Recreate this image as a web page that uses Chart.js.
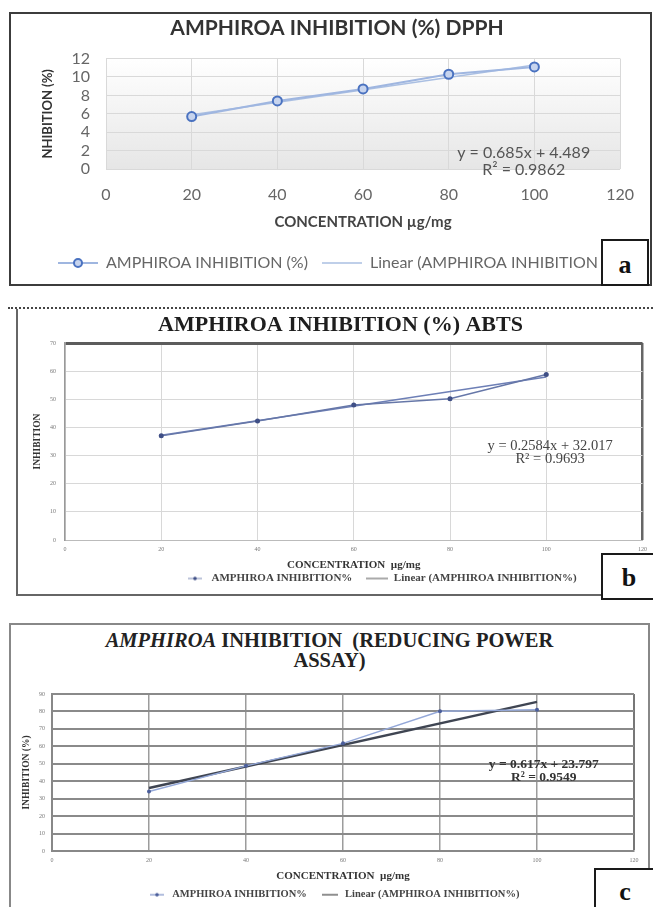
<!DOCTYPE html>
<html>
<head>
<meta charset="utf-8">
<title>Amphiroa inhibition</title>
<script src="https://cdn.jsdelivr.net/npm/chart.js@4.4.1/dist/chart.umd.min.js"></script>
<style>
  body { margin: 0; width: 653px; height: 907px; position: relative; overflow: hidden; background: #fff; }
  canvas { position: absolute; }
  .frame { position: absolute; box-sizing: border-box; }
  .tag { position: absolute; box-sizing: border-box; border: 2px solid #1a1a1a; background: #fff;
         font: bold 26px "Liberation Serif", serif; color: #111; text-align: center; }
  #titleC { position: absolute; left: 11px; width: 637px; top: 630px; text-align: center;
            font: bold 20.5px/20px "Liberation Serif", serif; color: #222; }
</style>
</head>
<body>

<div class="frame" style="left:9px;top:12px;width:643px;height:274px;border:2px solid #3c3c3c"></div>
<canvas id="chartA" width="639" height="270" style="left:11px;top:14px"></canvas>
<div class="tag" style="left:601px;top:239px;width:48px;height:47px;line-height:48px">a</div>

<div class="frame" style="left:8px;top:307px;width:645px;height:3px;border-top:2px dotted #444"></div>
<div class="frame" style="left:16px;top:309px;width:640px;height:287px;border-left:2px solid #666;border-bottom:2px solid #666"></div>
<canvas id="chartB" width="634" height="290" style="left:19px;top:311px"></canvas>
<div class="tag" style="left:601px;top:553px;width:56px;height:47px;line-height:46px">b</div>

<div class="frame" style="left:9px;top:623px;width:641px;height:300px;border:2px solid #888"></div>
<div id="titleC"><i>AMPHIROA</i> INHIBITION&nbsp; (REDUCING POWER<br>ASSAY)</div>
<canvas id="chartC" width="637" height="290" style="left:11px;top:625px"></canvas>
<div class="tag" style="left:594px;top:868px;width:62px;height:45px;line-height:44px">c</div>

<script>
// concentration (µg/mg) and % inhibition for each assay
const concentration = [20, 40, 60, 80, 100];
const dpphInhibition = [5.7, 7.4, 8.7, 10.3, 11.1];
const abtsInhibition = [37.0, 42.3, 48.0, 50.2, 58.8];
const reducingInhibition = [34.1, 48.8, 61.7, 80.1, 81.0];

// linear trend lines, value at each end of the range
const trendX = [20, 100];
const dpphTrend = [5.9, 11.3];
const abtsTrend = [37.2, 57.9];
const reducingTrend = [36.1, 85.5];

const dpphEquation = ['y = 0.685x + 4.489', 'R² = 0.9862'];
const abtsEquation = ['y = 0.2584x + 32.017', 'R² = 0.9693'];
const reducingEquation = ['y = 0.617x + 23.797', 'R² = 0.9549'];

const xTicksMax = 120;

Chart.defaults.animation = false;
Chart.defaults.devicePixelRatio = 1;

function pts(xs, ys) {
  return xs.map((x, i) => ({ x: x, y: ys[i] }));
}

// little line(+marker) images used as legend symbols
function icon(w, h, color, lw, dot) {
  const c = document.createElement('canvas');
  c.width = w; c.height = h;
  const g = c.getContext('2d');
  g.strokeStyle = color; g.lineWidth = lw;
  g.beginPath(); g.moveTo(0, h / 2); g.lineTo(w, h / 2); g.stroke();
  if (dot) {
    g.beginPath(); g.arc(w / 2, h / 2, dot.r, 0, Math.PI * 2);
    g.fillStyle = dot.fill; g.fill();
    if (dot.lw) { g.lineWidth = dot.lw; g.strokeStyle = dot.stroke; g.stroke(); }
  }
  return c;
}

function legendItems(color) {
  return chart => chart.data.datasets.map((ds, i) => ({
    text: ds.label, pointStyle: ds.icon, datasetIndex: i, hidden: false,
    fontColor: color, lineWidth: 0, strokeStyle: 'rgba(0,0,0,0)', fillStyle: 'rgba(0,0,0,0)'
  }));
}

// fixes the axis boxes so the plot area lands where it should
function axisFit(area) {
  return {
    x: s => {
      const c = s.chart;
      s.height = c.height - c.options.layout.padding.bottom - c.legend.height - area.bottom;
    },
    y: s => { s.width = area.left - (s.chart.options.layout.padding.left || 0); }
  };
}

const plotFill = {
  id: 'plotFill',
  beforeDatasetsDraw(chart, args, o) {
    const { ctx, chartArea: a } = chart;
    const g = ctx.createLinearGradient(0, a.top, 0, a.bottom);
    g.addColorStop(0, o.from); g.addColorStop(1, o.to);
    ctx.save();
    ctx.globalCompositeOperation = 'destination-over';
    ctx.fillStyle = g;
    ctx.fillRect(a.left, a.top, a.width, a.height);
    ctx.restore();
  }
};

// moves the legend row to start at a given x, and nudges the title sideways
const boxShift = {
  id: 'boxShift',
  afterLayout(chart, args, o) {
    const lg = chart.legend;
    const pad = lg.options.labels.padding;
    const x0 = (lg.left + pad + lg.right - lg.lineWidths[0]) / 2;
    const dx = o.legendStart - x0;
    lg.left += dx; lg.right += dx;
    const tb = chart.titleBlock;
    if (tb && o.title) { tb.left += o.title; tb.right += o.title; }
  }
};

const eqLabel = {
  id: 'eqLabel',
  afterDatasetsDraw(chart, args, o) {
    const { ctx, scales: { x, y } } = chart;
    ctx.save();
    ctx.font = o.font; ctx.fillStyle = o.color;
    ctx.textAlign = 'center'; ctx.textBaseline = 'middle';
    const px = x.getPixelForValue(o.at[0]);
    const py = y.getPixelForValue(o.at[1]);
    o.lines.forEach((t, i) => ctx.fillText(t, px, py + i * o.gap));
    ctx.restore();
  }
};

// ---- a: DPPH ----
const areaA = { left: 95, bottom: 155 };
const fitA = axisFit(areaA);
new Chart(document.getElementById('chartA'), {
  type: 'scatter',
  plugins: [plotFill, boxShift, eqLabel],
  data: {
    datasets: [{
      label: 'AMPHIROA INHIBITION (%)',
      data: pts(concentration, dpphInhibition),
      showLine: true, borderColor: '#9fb6e0', borderWidth: 2,
      pointRadius: 4.5, pointBorderWidth: 2, pointBorderColor: '#4a72c0', pointBackgroundColor: '#c7d4ee',
      icon: icon(40, 12, '#9fb6e0', 2, { r: 4, fill: '#c7d4ee', stroke: '#4a72c0', lw: 2 })
    }, {
      label: 'Linear (AMPHIROA INHIBITION (%))',
      data: pts(trendX, dpphTrend),
      showLine: true, borderColor: '#aabfe2', borderWidth: 1.5, pointRadius: 0,
      icon: icon(40, 12, '#aabfe2', 1.5)
    }]
  },
  options: {
    responsive: false,
    layout: { autoPadding: false, padding: { left: 0, right: 21, top: 0, bottom: 3 } },
    plugins: {
      title: {
        display: true, text: 'AMPHIROA INHIBITION (%) DPPH', color: '#333',
        font: { family: 'Lato', size: 21, weight: 'bold' }, padding: { top: 1.4, bottom: 18 }
      },
      legend: {
        position: 'bottom',
        labels: {
          usePointStyle: true, pointStyleWidth: 40, padding: 14,
          font: { family: 'Lato', size: 16 }, color: '#666',
          generateLabels: legendItems('#666')
        }
      },
      boxShift: { legendStart: 47, title: 17 },
      eqLabel: { lines: dpphEquation, at: [97.5, 1.8], gap: 17, font: '16px Lato', color: '#555' },
      plotFill: { from: '#ffffff', to: '#e6e6e6' },
      tooltip: { enabled: false }
    },
    scales: {
      x: {
        type: 'linear', min: 0, max: xTicksMax,
        ticks: { stepSize: 20, padding: 16, color: '#666', font: { family: 'Lato', size: 16 } },
        grid: { color: '#d9d9d9', drawTicks: false },
        border: { display: false },
        title: { display: true, text: 'CONCENTRATION µg/mg', color: '#444',
                 font: { family: 'Lato', size: 15, weight: 'bold' }, padding: { top: 0, bottom: 10 } },
        afterFit: fitA.x
      },
      y: {
        min: 0, max: 12,
        ticks: { stepSize: 2, padding: 16, autoSkip: false, color: '#666', font: { family: 'Lato', size: 16 } },
        grid: { color: '#d9d9d9', drawTicks: false },
        border: { display: false },
        title: { display: true, text: 'NHIBITION (%)', color: '#333',
                 font: { family: 'Lato', size: 13, weight: 'bold' }, padding: { top: 29, bottom: 0 } },
        afterFit: fitA.y
      }
    }
  }
});

// ---- b: ABTS ----
const areaB = { left: 46, bottom: 229 };
const fitB = axisFit(areaB);
new Chart(document.getElementById('chartB'), {
  type: 'scatter',
  plugins: [boxShift, eqLabel],
  data: {
    datasets: [{
      label: 'AMPHIROA INHIBITION%',
      data: pts(concentration, abtsInhibition),
      showLine: true, borderColor: '#6677a8', borderWidth: 1.5,
      pointRadius: 2.5, pointBorderWidth: 0, pointBackgroundColor: '#3f4f86',
      icon: icon(14, 8, '#7a88b4', 1, { r: 1.8, fill: '#3f4f86' })
    }, {
      label: 'Linear (AMPHIROA INHIBITION%)',
      data: pts(trendX, abtsTrend),
      showLine: true, borderColor: '#6d7fb6', borderWidth: 1.5, pointRadius: 0,
      icon: icon(22, 8, '#555', 1)
    }]
  },
  options: {
    responsive: false,
    layout: { autoPadding: false, padding: { left: 0, right: 7, top: 0, bottom: 7 } },
    plugins: {
      title: {
        display: true, text: 'AMPHIROA INHIBITION (%) ABTS', color: '#1e1e1e',
        font: { family: 'Liberation Serif', size: 22, weight: 'bold' }, padding: { top: 1, bottom: 4.6 }
      },
      legend: {
        position: 'bottom',
        labels: {
          usePointStyle: true, pointStyleWidth: 22, padding: 14,
          font: { family: 'Liberation Serif', size: 11, weight: 'bold' }, color: '#444',
          generateLabels: legendItems('#444')
        }
      },
      boxShift: { legendStart: 165, title: 8 },
      eqLabel: { lines: abtsEquation, at: [100.8, 33.3], gap: 13, font: '14.5px "Liberation Serif"', color: '#444' },
      tooltip: { enabled: false }
    },
    scales: {
      x: {
        type: 'linear', min: 0, max: xTicksMax,
        ticks: { stepSize: 20, padding: 6, color: '#777', font: { family: 'Liberation Serif', size: 6 } },
        grid: {
          drawTicks: false,
          color: c => c.tick.value === xTicksMax ? '#666' : '#d8d8d8',
          lineWidth: c => c.tick.value === xTicksMax ? 2.5 : 1
        },
        border: { color: '#bbb', width: 1 },
        title: { display: true, text: 'CONCENTRATION  µg/mg', color: '#333',
                 font: { family: 'Liberation Serif', size: 11, weight: 'bold' }, padding: { top: 0, bottom: -12.6 } },
        afterFit: fitB.x
      },
      y: {
        min: 0, max: 70,
        ticks: { stepSize: 10, padding: 9, color: '#777', font: { family: 'Liberation Serif', size: 6 } },
        grid: {
          drawTicks: false,
          color: c => c.tick.value === 70 ? '#5c5c5c' : '#d8d8d8',
          lineWidth: c => c.tick.value === 70 ? 3 : 1
        },
        border: { color: '#999', width: 1.5 },
        title: { display: true, text: 'INHIBITION', color: '#333',
                 font: { family: 'Liberation Serif', size: 9.5, weight: 'bold' }, padding: { top: 12.8, bottom: 0 } },
        afterFit: fitB.y
      }
    }
  }
});

// ---- c: reducing power ----
const areaC = { left: 41, bottom: 226 };
const fitC = axisFit(areaC);
new Chart(document.getElementById('chartC'), {
  type: 'scatter',
  plugins: [boxShift, eqLabel],
  data: {
    datasets: [{
      label: 'AMPHIROA INHIBITION%',
      data: pts(concentration, reducingInhibition),
      showLine: true, borderColor: '#94a8d8', borderWidth: 1.5,
      pointRadius: 2, pointBorderWidth: 0, pointBackgroundColor: '#4a5d9a',
      icon: icon(14, 8, '#7f93c8', 1.2, { r: 1.8, fill: '#4a5d9a' })
    }, {
      label: 'Linear (AMPHIROA INHIBITION%)',
      data: pts(trendX, reducingTrend),
      showLine: true, borderColor: '#3f4552', borderWidth: 2.5, pointRadius: 0,
      icon: icon(16, 8, '#444', 1.2)
    }]
  },
  options: {
    responsive: false,
    layout: { autoPadding: false, padding: { left: 0, right: 14, top: 69, bottom: 5 } },
    plugins: {
      title: { display: false },
      legend: {
        position: 'bottom',
        labels: {
          usePointStyle: true, pointStyleWidth: 20, padding: 13,
          font: { family: 'Liberation Serif', size: 10.5, weight: 'bold' }, color: '#444',
          generateLabels: legendItems('#444')
        }
      },
      boxShift: { legendStart: 136 },
      eqLabel: { lines: reducingEquation, at: [101.4, 49.4], gap: 13,
                 font: 'bold 13.5px "Liberation Serif"', color: '#333' },
      tooltip: { enabled: false }
    },
    scales: {
      x: {
        type: 'linear', min: 0, max: xTicksMax,
        ticks: { stepSize: 20, padding: 6, color: '#777', font: { family: 'Liberation Serif', size: 6 } },
        grid: {
          drawTicks: false,
          color: c => c.tick.value === xTicksMax ? '#777' : '#9c9c9c',
          lineWidth: c => c.tick.value === xTicksMax ? 2 : 1.5
        },
        border: { color: '#888', width: 2 },
        title: { display: true, text: 'CONCENTRATION  µg/mg', color: '#333',
                 font: { family: 'Liberation Serif', size: 11, weight: 'bold' }, padding: { top: 0, bottom: -6.1 } },
        afterFit: fitC.x
      },
      y: {
        min: 0, max: 90,
        ticks: { stepSize: 10, padding: 7, color: '#777', font: { family: 'Liberation Serif', size: 6 } },
        grid: { drawTicks: false, color: '#8a8a8a', lineWidth: 2 },
        border: { color: '#888', width: 2 },
        title: { display: true, text: 'INHIBITION (%)', color: '#333',
                 font: { family: 'Liberation Serif', size: 9.5, weight: 'bold' }, padding: { top: 10.3, bottom: 0 } },
        afterFit: fitC.y
      }
    }
  }
});
</script>
</body>
</html>
